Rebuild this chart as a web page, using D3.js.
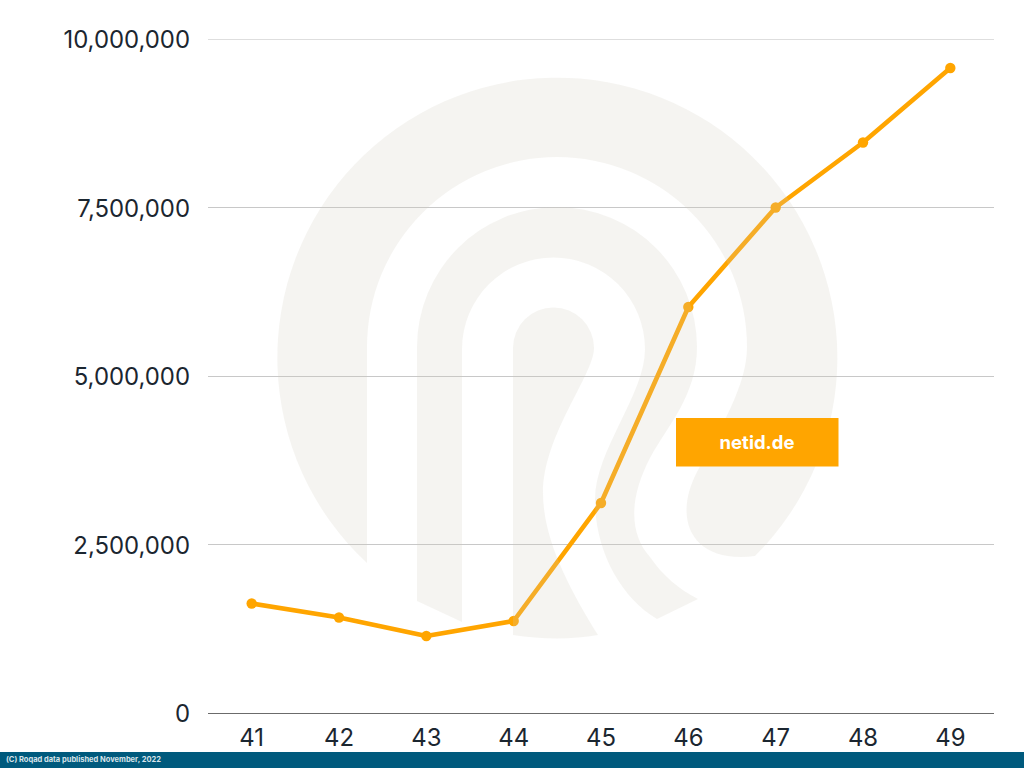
<!DOCTYPE html>
<html>
<head>
<meta charset="utf-8">
<script src="https://cdn.jsdelivr.net/npm/d3@7/dist/d3.min.js"></script>
<style>
html,body{margin:0;padding:0;background:#fff;overflow:hidden}
svg{display:block;font-family:Inter,sans-serif}
</style>
</head>
<body>
<svg id="chart" width="1024" height="768"></svg>
<script>
const weeks = ["41","42","43","44","45","46","47","48","49"];
const ids = [1625000,1417000,1142000,1365000,3116000,6024000,7500000,8464000,9570000];
const yTicks = [0,2500000,5000000,7500000,10000000];
const badgeLabel = "netid.de";
const footerLabel = "(C) Roqad data published November, 2022";

const svg = d3.select("#chart");
const x = d3.scaleBand().domain(weeks).range([208,994]);
const y = d3.scaleLinear().domain([0,10000000]).range([713,39]);
const cx = d => x(d) + x.bandwidth()/2;

// gridlines and axes
const yAxis = svg.append("g").attr("transform","translate(208,1)")
  .call(d3.axisLeft(y).tickValues(yTicks).tickFormat(d3.format(",")).tickSize(0).tickPadding(18));
yAxis.select(".domain").remove();
yAxis.selectAll("text").attr("font-size",23.9).attr("font-family","Inter").attr("fill","#1b2630");
svg.append("g").selectAll("line").data(yTicks).join("line")
  .attr("x1",208).attr("x2",994)
  .attr("y1",d=>Math.floor(y(d))+.5).attr("y2",d=>Math.floor(y(d))+.5)
  .attr("stroke",d=>d===0?"#6b6b6b":d===10000000?"#dedede":"#c8c8c8").attr("stroke-width",1);

const xAxis = svg.append("g").attr("transform","translate(0,713)")
  .call(d3.axisBottom(x).tickSize(0).tickPadding(16));
xAxis.select(".domain").remove();
xAxis.selectAll("text").attr("font-size",23.9).attr("font-family","Inter").attr("fill","#1b2630");

// series
const line = d3.line().x((d,i)=>cx(weeks[i])).y(d=>y(d));
svg.append("path").datum(ids).attr("d",line).attr("fill","none")
  .attr("stroke","#ffa500").attr("stroke-width",4.6).attr("stroke-linejoin","round");
svg.append("g").selectAll("circle").data(ids).join("circle")
  .attr("cx",(d,i)=>cx(weeks[i])).attr("cy",d=>y(d)).attr("r",5.2).attr("fill","#ffa500");

// translucent logo watermark, lies over the series
const logoShapes = [
 "M367 563 L367 347 A190 190 0 0 1 747 347 C747 385 722 425 697 472 C672 520 692 564 755 556 A280 280 0 1 0 367 563 Z",
 "M417 601 L417 347 A140 140 0 0 1 697 347 C697 395 668 425 650 458 C628 500 630 535 650 557 C662 575 680 590 698 599 L657 619 C620 597 595 550 595 500 C595 450 645 395 645 349 A91.5 91.5 0 0 0 462 349 L462 622 Z",
 "M513 635 L513 348 A40.5 40.5 0 0 1 594 348 C594 375 543 435 543 493 C543 540 570 590 598 635 C570 640 540 639 513 635 Z"
];
svg.append("g").selectAll("path").data(logoShapes).join("path")
  .attr("d",d=>d).attr("fill","rgb(207,205,190)").attr("fill-opacity",.21);

// badge
svg.append("rect").attr("x",676).attr("y",418).attr("width",162.5).attr("height",48.5).attr("fill","#ffa500");
svg.append("text").attr("x",757).attr("y",448.5).attr("text-anchor","middle")
  .attr("font-size",18.5).attr("font-weight",700).attr("fill","#fff").text(badgeLabel);

// footer
svg.append("rect").attr("x",0).attr("y",752).attr("width",1024).attr("height",16).attr("fill","#005a7d");
svg.append("text").attr("x",6).attr("y",762).attr("font-size",7.5).attr("font-weight",700)
  .attr("fill","#d8e4ea").text(footerLabel);
</script>
</body>
</html>
